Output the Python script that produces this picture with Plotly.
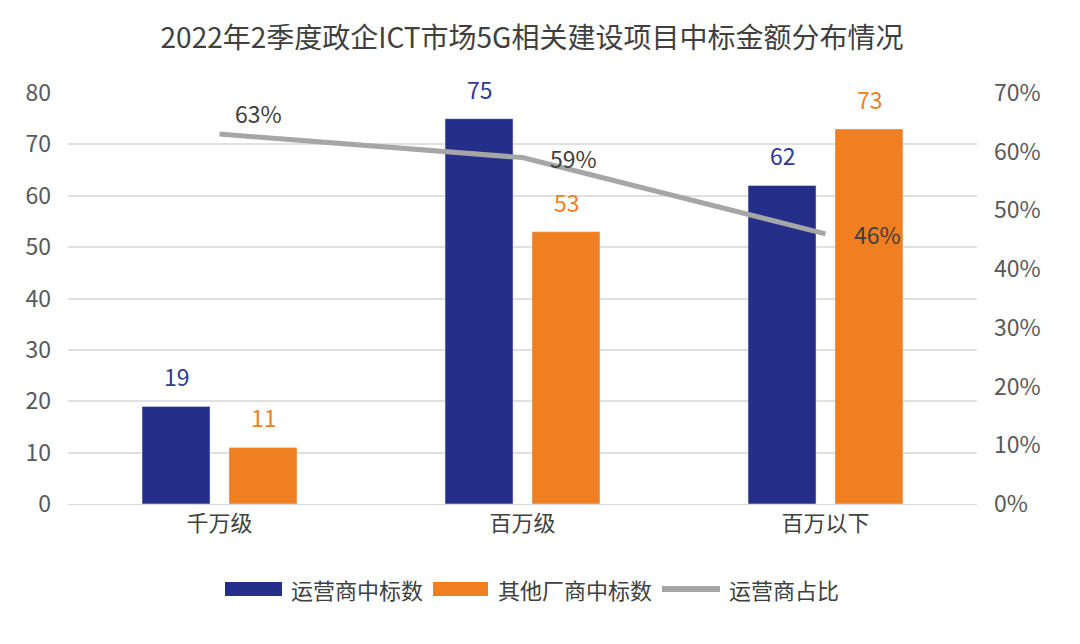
import plotly.graph_objects as go

categories = ["千万级", "百万级", "百万以下"]
operator_wins = [19, 75, 62]
other_wins = [11, 53, 73]
operator_share = [0.63, 0.59, 0.46]
share_labels = ["63%", "59%", "46%"]
legend_names = ["运营商中标数", "其他厂商中标数", "运营商占比"]

FONT = "Noto Sans CJK SC"
BLUE = "#252f8a"
ORANGE = "#f07f22"
GRAY = "#a6a6a6"
BLUE_TXT = "#2e3a94"
DARK = "#404040"

# layout geometry (figure pixels)
W_FIG, H_FIG = 1080, 644
L, R, T, B = 60, 111, 85, 148
PW, PH = W_FIG - L - R, H_FIG - T - B
OFF = 8  # page body offset


def px(sx):
    return (sx - OFF - L) / PW


def py(sy):
    return 1 - (sy - OFF - T) / PH


fig = go.Figure()
fig.add_trace(go.Bar(
    x=categories, y=operator_wins, name=legend_names[0],
    marker=dict(color=BLUE), offsetgroup="a", showlegend=False,
))
fig.add_trace(go.Bar(
    x=categories, y=other_wins, name=legend_names[1],
    marker=dict(color=ORANGE), offsetgroup="b", showlegend=False,
))
fig.add_trace(go.Scatter(
    x=categories, y=operator_share, name=legend_names[2], yaxis="y2",
    mode="lines", line=dict(color=GRAY, width=5), showlegend=False,
    cliponaxis=False,
))

annotations = []
n = len(categories)
for i, c in enumerate(categories):
    annotations.append(dict(x=i, y=operator_wins[i], xref="x", yref="y", text=str(operator_wins[i]),
                            showarrow=False, xshift=-43, yshift=30, yanchor="middle",
                            font=dict(size=23, color=BLUE_TXT, family=FONT)))
    annotations.append(dict(x=i, y=other_wins[i], xref="x", yref="y", text=str(other_wins[i]),
                            showarrow=False, xshift=44, yshift=30, yanchor="middle",
                            font=dict(size=23, color=ORANGE, family=FONT)))
shifts = [(39, 21), (51, 0), (52, 0)]
for i, c in enumerate(categories):
    dx, dy = shifts[i]
    annotations.append(dict(x=i, y=operator_share[i], xref="x", yref="y2", text=share_labels[i],
                            showarrow=False, xshift=dx, yshift=dy, yanchor="middle", xanchor="center",
                            font=dict(size=23, color=DARK, family=FONT)))

# custom legend
shapes = []
ly = py(589)
shapes.append(dict(type="rect", xref="paper", yref="paper", x0=px(225), x1=px(282),
                   y0=py(596), y1=py(582), fillcolor=BLUE, line=dict(width=0)))
shapes.append(dict(type="rect", xref="paper", yref="paper", x0=px(433), x1=px(488),
                   y0=py(596), y1=py(582), fillcolor=ORANGE, line=dict(width=0)))
shapes.append(dict(type="line", xref="paper", yref="paper", x0=px(662), x1=px(720),
                   y0=ly, y1=ly, line=dict(color=GRAY, width=6)))
for name, sx in zip(legend_names, [289, 496, 727]):
    annotations.append(dict(x=px(sx), y=ly, xref="paper", yref="paper", text=name,
                            showarrow=False, xanchor="left", yanchor="middle",
                            font=dict(size=22, color=DARK, family=FONT)))

fig.update_layout(
    width=W_FIG, height=H_FIG,
    paper_bgcolor="white", plot_bgcolor="white",
    font=dict(family=FONT, color="#595959", size=18),
    title=dict(text="2022年2季度政企ICT市场5G相关建设项目中标金额分布情况",
               x=(532 - OFF) / W_FIG, xref="container", xanchor="center",
               y=1 - 30 / H_FIG, yref="container", yanchor="middle",
               font=dict(size=28, color=DARK, family=FONT)),
    margin=dict(l=L, r=R, t=T, b=B),
    barmode="group", bargap=0.426, bargroupgap=0.218,
    showlegend=False,
    xaxis=dict(showgrid=False, showline=True, linecolor="#d9d9d9", linewidth=1,
               tickfont=dict(size=22, color=DARK), ticks="", automargin=False,
               range=[-0.5, n - 0.5]),
    yaxis=dict(range=[0, 80], dtick=10, showgrid=True, gridcolor="#e0e0e0",
               gridwidth=1.5, zeroline=False, tickfont=dict(size=23, color="#595959"),
               ticklabelstandoff=16, automargin=False),
    yaxis2=dict(range=[0, 0.7], dtick=0.1, tickformat=".0%", overlaying="y",
                side="right", showgrid=False, zeroline=False, automargin=False,
                tickfont=dict(size=23, color="#595959"), ticklabelstandoff=16),
    annotations=annotations,
    shapes=shapes,
)

fig.write_html("out.html")
